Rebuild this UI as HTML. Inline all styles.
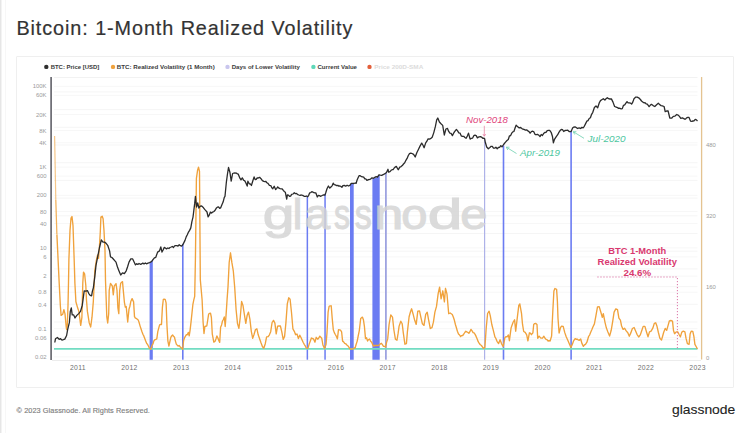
<!DOCTYPE html>
<html><head><meta charset="utf-8"><style>
html,body{margin:0;padding:0;background:#fff;}
body{width:750px;height:433px;position:relative;overflow:hidden;font-family:"Liberation Sans",Arial,sans-serif;}
.stripe{position:absolute;left:0;top:0;width:1px;height:433px;background:#e6e6e6;}
.stripe2{position:absolute;left:1px;top:0;width:1px;height:433px;background:#f3f3f3;}
.title{-webkit-text-stroke:0.2px #333;position:absolute;left:16.4px;top:19.2px;font-size:19.8px;line-height:1;color:#333;white-space:nowrap;letter-spacing:0.93px;}
.panel{position:absolute;left:15.8px;top:55.8px;width:716.5px;height:330px;border:1.5px solid #efefef;border-radius:1px;}
.footer{position:absolute;left:16.6px;top:406.8px;font-size:7.3px;line-height:1;color:#808080;white-space:nowrap;letter-spacing:0.08px;-webkit-text-stroke:0.15px #808080;}
.logo{position:absolute;left:671.5px;top:404.3px;font-size:12.4px;line-height:1;color:#222;white-space:nowrap;transform-origin:0 0;transform:scaleX(1.12);-webkit-text-stroke:0.1px #222;}
svg text{font-family:"Liberation Sans",Arial,sans-serif;}
.ax{font-size:5.9px;fill:#9a9a9a;}
.xl{font-size:6.8px;fill:#707070;letter-spacing:0.35px;}
.wm{font-size:43px;fill:#d4d4d4;stroke:#d4d4d4;stroke-width:1.1px;}
.an{font-size:8.5px;font-style:italic;}
.ab{font-size:8.3px;font-weight:bold;fill:#d9386f;}
.lg{font-size:6.2px;font-weight:bold;}
</style></head><body>
<div class="stripe"></div><div class="stripe2"></div><div style="position:absolute;left:5px;top:0;width:1px;height:433px;background:#f7f7f7"></div>
<div class="title">Bitcoin: 1-Month Realized Volatility</div>
<div class="panel"></div>
<svg width="750" height="433" viewBox="0 0 750 433" style="position:absolute;left:0;top:0"><line x1="54" y1="77.5" x2="697.5" y2="77.5" stroke="#f2f2f2" stroke-width="1"/><line x1="54" y1="339.7" x2="697.5" y2="339.7" stroke="#f5f5f5" stroke-width="1"/><line x1="54" y1="322.0" x2="697.5" y2="322.0" stroke="#f5f5f5" stroke-width="1"/><line x1="54" y1="304.3" x2="697.5" y2="304.3" stroke="#f5f5f5" stroke-width="1"/><line x1="54" y1="286.6" x2="697.5" y2="286.6" stroke="#f5f5f5" stroke-width="1"/><line x1="54" y1="268.9" x2="697.5" y2="268.9" stroke="#f5f5f5" stroke-width="1"/><line x1="54" y1="251.2" x2="697.5" y2="251.2" stroke="#f5f5f5" stroke-width="1"/><line x1="54" y1="233.5" x2="697.5" y2="233.5" stroke="#f5f5f5" stroke-width="1"/><line x1="54" y1="215.8" x2="697.5" y2="215.8" stroke="#f5f5f5" stroke-width="1"/><line x1="54" y1="198.1" x2="697.5" y2="198.1" stroke="#f5f5f5" stroke-width="1"/><line x1="54" y1="180.4" x2="697.5" y2="180.4" stroke="#f5f5f5" stroke-width="1"/><line x1="54" y1="162.7" x2="697.5" y2="162.7" stroke="#f5f5f5" stroke-width="1"/><line x1="54" y1="145.0" x2="697.5" y2="145.0" stroke="#f5f5f5" stroke-width="1"/><line x1="54" y1="127.3" x2="697.5" y2="127.3" stroke="#f5f5f5" stroke-width="1"/><line x1="54" y1="109.6" x2="697.5" y2="109.6" stroke="#f5f5f5" stroke-width="1"/><line x1="54" y1="91.9" x2="697.5" y2="91.9" stroke="#f5f5f5" stroke-width="1"/><line x1="54" y1="86.3" x2="697.5" y2="86.3" stroke="#f7f7f7" stroke-width="1"/><line x1="54" y1="95.3" x2="697.5" y2="95.3" stroke="#f7f7f7" stroke-width="1"/><line x1="54" y1="114.5" x2="697.5" y2="114.5" stroke="#f7f7f7" stroke-width="1"/><line x1="54" y1="130.6" x2="697.5" y2="130.6" stroke="#f7f7f7" stroke-width="1"/><line x1="54" y1="142.8" x2="697.5" y2="142.8" stroke="#f7f7f7" stroke-width="1"/><line x1="54" y1="167.1" x2="697.5" y2="167.1" stroke="#f7f7f7" stroke-width="1"/><line x1="54" y1="176.1" x2="697.5" y2="176.1" stroke="#f7f7f7" stroke-width="1"/><line x1="54" y1="195.3" x2="697.5" y2="195.3" stroke="#f7f7f7" stroke-width="1"/><line x1="54" y1="211.4" x2="697.5" y2="211.4" stroke="#f7f7f7" stroke-width="1"/><line x1="54" y1="223.6" x2="697.5" y2="223.6" stroke="#f7f7f7" stroke-width="1"/><line x1="54" y1="247.9" x2="697.5" y2="247.9" stroke="#f7f7f7" stroke-width="1"/><line x1="54" y1="256.9" x2="697.5" y2="256.9" stroke="#f7f7f7" stroke-width="1"/><line x1="54" y1="276.1" x2="697.5" y2="276.1" stroke="#f7f7f7" stroke-width="1"/><line x1="54" y1="292.2" x2="697.5" y2="292.2" stroke="#f7f7f7" stroke-width="1"/><line x1="54" y1="304.4" x2="697.5" y2="304.4" stroke="#f7f7f7" stroke-width="1"/><line x1="54" y1="328.7" x2="697.5" y2="328.7" stroke="#f7f7f7" stroke-width="1"/><line x1="54" y1="337.7" x2="697.5" y2="337.7" stroke="#f7f7f7" stroke-width="1"/><line x1="54" y1="356.9" x2="697.5" y2="356.9" stroke="#f7f7f7" stroke-width="1"/><line x1="52" y1="360.5" x2="701" y2="360.5" stroke="#ececec" stroke-width="1"/><polygon points="149.60,262.44 150.06,262.29 150.51,262.15 150.97,262.01 151.43,261.31 151.89,260.58 152.34,259.85 152.80,259.12 152.80,359.7 149.60,359.7" fill="#6b7cf2"/><rect x="182.0" y="243.9" width="1.6" height="115.8" fill="#6b7cf2"/><rect x="306.6" y="196.3" width="1.5" height="163.4" fill="#6b7cf2"/><rect x="324.3" y="194.0" width="1.5" height="165.7" fill="#6b7cf2"/><polygon points="350.00,184.52 350.46,184.28 350.93,184.04 351.39,183.90 351.85,183.90 352.31,183.90 352.77,183.90 353.24,183.90 353.70,183.90 353.70,359.7 350.00,359.7" fill="#6b7cf2"/><polygon points="372.40,178.65 372.89,178.53 373.37,178.41 373.86,178.28 374.35,178.16 374.83,178.04 375.32,177.92 375.81,177.80 376.29,177.63 376.78,177.25 377.27,176.87 377.75,176.49 378.24,176.11 378.73,175.73 379.21,175.52 379.70,175.40 379.70,359.7 372.40,359.7" fill="#6b7cf2"/><rect x="385.0" y="172.9" width="1.8" height="186.8" fill="#9ea3e0"/><rect x="484.0" y="139.0" width="1.2" height="220.7" fill="#aeb2e8"/><rect x="502.7" y="145.5" width="1.6" height="214.2" fill="#6b7cf2"/><rect x="570.3" y="130.8" width="1.6" height="228.9" fill="#6b7cf2"/><line x1="54" y1="348.9" x2="697.5" y2="348.9" stroke="#72dcc2" stroke-width="1.7"/><polyline points="54.6,136.0 55.8,200.0" fill="none" stroke="#f0a23c" stroke-opacity="0.6" stroke-width="1.2"/><polyline points="55.8,200.0 56.9,234.6" fill="none" stroke="#f0a23c" stroke-opacity="0.85" stroke-width="1.25"/><polyline points="56.9,234.6 58.1,259.9 59.2,283.1 60.4,306.5 61.1,315.4 62.7,314.3 63.9,309.7 65.0,313.9 66.2,327.0 66.6,329.5 67.3,325.1 68.0,305.5 68.5,282.8 68.9,259.5 70.0,230.4 71.0,218.2 72.0,216.5 73.0,225.6 74.2,260.6 74.9,283.2 75.9,301.7 77.7,308.1 78.9,311.4 80.0,320.0 80.7,325.3 81.9,317.3 82.8,282.7 83.5,272.1 84.6,273.8 85.8,285.3 86.5,300.4 87.4,311.4 89.2,322.7 90.7,327.0 92.0,317.2 93.3,301.9 94.8,270.7 96.3,260.6 97.6,255.0 98.5,258.4 99.4,247.2 100.3,231.8 100.9,217.1 102.2,216.2 103.1,218.7 104.0,230.6 105.0,250.6 105.5,280.4 106.8,316.9 107.7,323.0 108.7,313.7 109.2,290.4 110.5,283.4 112.3,286.0 113.3,294.8 114.2,286.1 116.0,283.6 117.0,290.5 117.9,307.9 118.8,313.6 119.7,290.7 120.7,283.2 122.5,281.6 123.4,291.6 124.4,302.3 125.3,307.2 126.2,306.5 127.7,322.0 129.0,309.1 129.9,306.2 130.8,301.6 132.1,298.6 133.6,301.9 134.5,316.6 135.4,318.2 136.4,318.4 138.2,319.9 139.1,322.5 140.1,326.1 141.0,328.7 141.9,331.5 142.9,334.2 143.8,335.9 145.6,340.8 146.6,343.3 147.5,344.4 148.4,346.0 149.3,347.9 150.8,349.3 152.1,345.1 153.0,343.9 153.9,340.7 154.9,339.7 155.8,339.3 156.8,338.8 157.8,331.6 159.6,324.8 160.6,324.4 161.5,324.5 162.4,307.4 163.3,299.5 164.2,299.2 165.2,299.3 166.1,302.8 167.0,326.2 167.9,341.1 168.9,346.0 170.7,337.8 171.6,335.9 172.6,335.0 173.5,336.3 174.4,337.0 175.3,340.6 176.3,344.1 178.1,346.1 179.1,345.5 180.0,346.7 180.9,347.6 181.8,348.1 182.7,349.2 183.6,340.5 184.6,337.7 185.5,336.1 186.4,334.7 187.3,334.7 188.3,332.4 189.2,335.9 190.1,330.1 191.1,321.4 192.0,312.9 192.9,304.3 193.8,299.8 194.7,296.3 195.4,260.1 196.4,178.4 197.6,170.1 198.5,167.2 199.5,171.5 200.3,279.6 202.1,299.7 203.1,322.2 204.0,333.5 204.9,326.5 205.9,326.2 206.8,326.0 208.6,314.3 209.6,313.3 210.5,313.1 211.4,317.5 212.3,334.2 213.8,342.1 215.1,341.2 216.0,338.8 216.9,336.0 217.9,338.1 218.8,340.4 219.7,342.4 220.6,327.2 221.6,324.9 222.5,321.0 223.4,319.5 224.3,317.0 225.2,326.5 226.2,313.1 227.1,299.1 228.0,286.9 229.2,262.3 230.5,252.8 231.9,262.7 233.3,270.8 234.7,287.2 236.1,309.7 237.5,323.6 238.9,328.4 240.2,317.8 241.6,301.5 243.0,305.5 244.4,314.7 245.8,323.4 247.2,315.2 248.5,312.1 249.9,319.1 251.3,331.3 252.7,338.4 254.1,334.3 255.5,329.5 256.9,328.8 258.2,334.8 259.6,338.8 261.0,342.8 262.4,346.5 263.8,348.3 265.2,344.0 266.6,336.9 268.0,336.7 269.3,335.1 270.7,331.7 272.1,322.5 273.5,320.4 274.9,323.1 276.2,333.9 277.6,326.1 279.0,325.9 280.4,326.0 281.8,331.9 283.2,339.4 284.6,336.4 285.9,322.9 287.3,303.9 288.7,297.8 290.1,299.2 291.5,312.5 292.9,328.8 294.3,331.3 295.6,334.7 297.0,334.0 298.4,338.5 299.8,335.2 301.0,337.5 302.1,340.0 303.1,342.2 304.2,344.3 305.2,345.8 306.2,348.1 307.9,348.4 309.4,343.4 310.4,340.7 311.4,338.0 312.4,338.5 313.5,338.9 315.0,342.2 316.2,337.3 317.7,339.2 318.8,338.0 319.8,336.2 320.8,337.2 321.8,338.5 322.9,345.0 324.5,348.6 326.0,344.6 327.0,332.8 328.1,312.2 329.1,306.3 330.1,305.9 331.2,305.8 332.2,318.2 333.3,329.7 334.3,332.6 335.3,334.5 336.4,336.3 337.4,338.9 338.5,329.7 339.5,329.9 340.5,330.2 341.6,331.8 342.6,341.1 343.6,341.9 344.7,343.4 345.8,343.8 346.8,345.0 347.9,345.8 348.9,347.1 349.9,348.8 350.9,349.0 352.0,349.2 353.0,348.8 354.1,347.9 355.1,348.0 356.1,344.5 357.2,341.1 358.2,336.0 359.3,330.6 360.7,318.5 362.4,317.1 363.4,319.7 364.4,326.3 365.5,338.6 366.5,337.7 367.6,341.0 368.6,339.5 369.6,339.0 370.6,341.2 371.7,342.3 372.8,344.9 373.8,346.3 374.9,345.3 376.0,345.5 377.2,345.4 378.3,345.5 379.4,344.7 380.4,343.9 381.4,343.3 382.4,344.7 383.5,346.4 384.6,346.4 385.6,347.1 386.6,342.4 387.7,338.9 389.1,324.4 390.8,314.9 392.5,317.1 393.9,330.0 395.4,339.1 397.0,340.2 398.1,333.4 399.1,326.1 400.8,321.2 402.2,323.8 403.3,332.9 404.9,344.2 406.4,343.6 407.4,331.9 409.1,316.7 410.5,311.7 411.6,308.8 413.0,313.7 414.7,320.3 416.2,324.4 417.8,311.1 419.5,310.9 420.9,317.4 422.4,323.8 424.0,325.4 425.7,314.3 427.2,312.2 428.6,319.9 430.3,328.5 432.0,327.6 433.4,322.2 434.9,312.1 436.5,306.4 438.2,293.4 439.6,287.2 441.1,298.8 442.8,290.8 444.4,301.9 445.5,288.3 447.0,294.2 448.7,313.7 450.2,313.0 451.2,313.7 452.3,314.5 453.4,317.2 454.4,320.3 455.4,324.5 456.4,327.8 457.4,331.2 458.5,334.0 459.6,335.0 460.6,336.6 461.6,335.6 462.7,335.5 463.8,334.0 464.8,332.5 465.8,331.3 466.8,331.9 467.9,332.4 468.9,333.3 469.9,331.7 471.0,329.4 472.1,330.8 473.1,332.6 474.1,332.9 475.1,334.4 476.1,336.4 477.2,339.1 478.2,341.7 479.3,343.5 480.4,344.8 481.4,345.5 482.4,346.9 483.5,348.4 484.9,347.4 486.2,328.2 487.6,313.5 489.1,311.2 490.3,315.8 491.8,324.5 493.2,329.9 494.9,336.8 495.9,338.5 497.0,341.3 498.6,343.5 500.1,339.8 501.5,343.6 503.2,346.7 504.9,337.7 505.9,336.6 507.0,336.8 508.4,335.0 509.4,340.7 511.1,327.9 512.2,324.7 513.2,322.0 514.6,319.8 515.7,331.2 517.3,317.7 518.8,305.3 519.8,303.9 521.5,313.3 522.5,324.2 523.7,331.5 525.2,332.4 526.7,334.8 527.9,340.8 529.4,332.8 530.4,333.1 531.4,334.7 532.9,332.8 533.7,324.5 534.7,323.6 535.6,323.4 537.0,324.5 537.7,338.3 539.1,336.1 540.8,338.1 542.5,338.2 543.9,336.2 545.0,338.3 546.0,339.3 547.0,339.7 548.1,341.1 549.1,340.6 550.1,341.0 551.6,336.1 552.8,311.5 553.9,291.0 554.9,288.5 556.6,289.4 557.4,301.4 558.0,318.3 559.1,333.0 560.5,327.7 561.6,326.1 563.2,326.4 564.7,332.4 566.2,336.7 567.8,340.3 569.5,344.3 570.9,347.5 572.4,344.2 573.6,340.8 575.1,338.6 576.2,339.2 577.2,339.2 578.2,339.8 579.3,340.3 580.7,339.0 581.9,343.4 583.4,346.4 584.5,344.9 585.5,344.3 586.9,342.2 588.6,336.5 589.7,334.8 590.7,332.2 591.8,329.8 592.8,327.2 594.4,323.9 595.9,315.8 597.5,306.8 599.2,306.6 600.8,312.0 602.3,317.4 603.3,313.6 605.0,322.3 606.4,328.1 607.9,332.0 609.6,336.1 611.2,330.3 612.7,321.4 614.1,312.1 615.8,308.9 617.5,309.7 618.9,318.2 620.4,320.1 621.6,326.0 623.1,329.4 624.5,328.2 626.2,330.9 627.8,332.8 629.3,336.2 630.8,332.9 632.4,328.5 634.1,327.5 635.5,330.7 637.0,334.3 638.7,337.0 640.3,334.9 641.8,330.5 643.2,326.4 644.9,326.4 646.6,332.3 648.0,336.8 649.5,331.9 651.1,331.1 652.8,328.2 654.3,323.4 655.7,322.8 657.0,326.3 658.4,332.5 659.9,338.3 661.5,340.1 662.6,336.2 663.7,332.2 665.2,328.4 666.7,330.4 667.9,326.1 669.4,320.8 670.8,320.5 672.5,321.1 673.5,330.5 674.6,333.7 676.2,331.9 677.7,331.8 679.1,334.5 680.4,336.8 681.8,332.1 683.3,331.2 684.9,331.9 686.0,338.2 687.4,343.7 689.1,344.3 690.1,334.1 691.2,331.2 692.8,331.4 693.9,336.5 694.9,344.4 696.4,347.0 697.4,349.0" fill="none" stroke="#f0a23c" stroke-width="1.35" stroke-linejoin="round"/><polyline points="54.8,342.5 55.5,338.7 57.4,337.5 59.2,339.4 60.6,338.7 62.0,340.1 63.4,339.7 64.8,339.1 66.6,335.5 67.6,329.9 69.4,322.4 70.3,311.4 71.3,307.9 72.2,314.9 73.7,314.9 75.0,318.0 76.8,315.4 78.7,313.6 80.5,311.4 82.3,305.2 84.2,290.9 86.0,291.2 87.4,290.6 88.8,293.6 90.2,295.4 91.6,295.9 92.4,291.2 93.4,287.6 94.8,276.6 96.0,265.4 97.6,257.2 99.4,248.0 101.3,240.0 103.0,242.1 104.5,242.1 105.9,243.1 107.7,245.3 109.6,250.9 110.5,256.9 111.9,257.5 113.3,259.0 114.7,260.6 116.0,262.1 117.4,266.8 118.8,270.4 120.7,275.0 122.5,272.8 124.4,273.7 126.2,270.8 127.6,266.7 129.0,262.1 130.8,258.9 132.7,258.9 134.1,261.9 135.5,264.9 136.7,263.7 137.8,264.4 139.0,263.5 140.3,264.3 141.5,264.0 142.8,263.1 144.0,263.9 145.3,262.9 146.5,263.8 148.0,263.1 149.5,262.6 151.0,261.9 152.0,261.1 153.0,259.7 154.4,257.8 155.8,257.3 157.6,252.1 159.5,250.9 160.8,246.9 162.0,252.0 163.1,250.0 164.2,247.4 165.4,248.0 166.5,248.9 167.7,248.0 168.9,248.5 170.0,247.5 171.2,247.0 172.3,246.5 173.5,247.5 174.6,245.9 175.7,245.7 176.9,245.6 178.0,246.1 179.2,244.8 180.4,245.7 181.6,246.1 182.8,244.8 183.9,242.6 185.0,240.4 186.2,236.9 187.3,234.8 188.5,232.1 189.6,230.4 190.8,227.9 191.9,221.7 193.0,217.1 194.7,203.4 195.4,196.5 196.6,207.0 197.7,202.9 198.9,208.0 200.1,206.3 201.2,205.8 202.4,206.6 203.5,207.8 204.7,209.4 205.8,210.6 207.0,212.0 208.1,216.8 209.2,215.2 210.4,212.1 211.6,213.1 212.7,212.1 213.9,211.5 215.1,210.2 216.2,208.3 217.4,207.1 218.5,206.9 219.7,208.4 220.8,207.6 221.9,204.7 223.1,202.1 224.3,197.3 225.0,196.3 226.4,181.8 227.4,174.5 228.5,167.5 229.9,172.2 231.2,181.1 232.6,173.5 234.0,173.0 235.1,173.2 236.1,173.0 237.1,173.6 238.2,174.1 239.6,177.6 241.0,179.9 242.3,177.9 243.7,180.3 244.8,180.9 245.8,182.7 247.2,186.1 247.9,181.2 249.3,183.8 250.4,184.0 251.4,185.5 252.7,181.3 254.1,176.9 255.1,179.5 256.2,179.4 257.2,177.9 258.3,178.0 259.6,177.3 261.0,178.7 262.4,180.6 263.8,181.4 264.9,181.7 265.9,181.5 266.9,182.8 268.0,183.4 269.4,185.3 270.8,185.6 271.8,187.8 272.8,188.7 274.2,186.3 275.6,189.6 276.6,188.6 277.7,186.9 279.0,188.2 280.1,188.6 281.2,188.8 282.2,188.8 283.3,190.4 284.3,191.5 285.3,192.2 286.7,199.1 287.4,194.8 288.4,195.1 289.5,196.3 290.6,196.1 291.6,194.4 293.0,194.0 294.3,192.8 295.4,193.7 296.4,193.5 297.8,194.6 298.9,195.0 299.9,195.3 301.3,195.0 302.7,195.4 304.1,196.3 305.5,196.4 306.6,196.0 307.6,196.7 308.6,195.6 309.7,192.8 310.8,192.6 311.8,191.7 312.9,192.1 313.9,192.7 314.9,192.9 315.9,193.0 317.3,197.0 318.4,195.4 319.4,195.6 320.8,196.3 322.2,195.5 323.5,194.8 324.9,195.2 325.9,192.3 327.0,188.8 328.4,186.0 329.8,188.1 331.2,186.8 332.2,185.6 333.2,183.2 334.2,184.6 335.3,184.9 336.7,185.6 337.8,185.4 338.8,186.1 339.9,186.0 340.9,186.4 341.9,187.3 342.9,185.6 344.3,185.4 345.7,186.2 347.1,185.2 348.5,186.0 349.9,185.3 351.2,183.3 352.6,183.4 354.0,183.5 355.1,183.0 356.1,183.4 357.1,180.0 358.2,177.5 359.2,175.6 360.2,175.7 361.6,176.7 362.6,176.9 363.7,177.2 364.8,178.9 365.8,178.9 366.9,180.3 367.9,179.8 369.2,179.5 370.6,179.1 372.0,177.8 373.4,178.3 374.8,177.4 376.2,176.7 377.5,177.2 378.9,174.9 380.3,175.2 381.7,175.4 383.1,174.7 384.5,173.9 385.6,173.2 386.6,172.3 388.0,169.3 388.6,172.1 390.0,171.6 391.1,170.3 392.1,169.7 393.1,169.6 394.2,168.0 395.2,167.1 396.3,166.4 398.2,169.8 399.8,167.1 401.1,166.6 402.3,165.6 403.5,164.0 404.7,162.8 405.9,160.3 407.1,158.4 408.3,155.5 409.5,153.6 410.8,153.1 412.0,153.5 413.6,154.4 415.2,157.0 416.8,152.8 418.4,149.5 420.0,146.1 421.7,143.1 422.9,145.0 424.1,147.7 425.7,142.9 426.9,141.2 428.1,138.8 429.3,139.2 430.5,138.7 432.2,137.3 433.8,132.6 435.4,126.4 436.7,119.8 437.8,118.0 439.4,122.0 441.0,123.7 442.7,125.4 444.3,135.0 445.9,129.0 447.5,128.4 448.7,131.4 449.9,133.2 451.1,133.4 452.4,135.6 454.0,132.5 455.2,130.9 456.4,129.4 457.6,130.9 458.8,132.9 460.0,133.1 461.2,135.8 462.4,136.4 463.7,136.3 464.9,137.4 466.1,138.3 467.3,136.1 468.5,133.2 470.1,139.1 471.3,138.3 472.5,138.2 473.8,135.7 475.0,135.2 476.2,135.6 477.4,137.9 479.0,136.8 480.6,136.6 481.7,137.2 482.8,138.3 483.9,138.2 484.6,138.5 485.3,142.3 486.7,147.0 488.3,148.7 489.9,147.4 491.1,146.3 492.3,146.4 493.5,148.2 494.7,148.2 495.9,147.2 497.2,148.7 498.4,147.5 499.6,147.3 500.8,145.6 502.0,146.9 503.6,144.5 505.5,142.1 507.0,140.5 508.3,139.5 509.4,136.0 510.5,135.7 511.7,133.2 512.8,131.9 513.9,131.5 515.0,128.2 516.1,125.1 517.2,126.3 518.9,127.8 520.6,127.5 522.2,128.8 523.9,129.4 525.6,130.1 526.7,129.8 527.8,130.9 529.0,131.6 530.1,133.2 531.4,131.6 532.7,131.2 533.9,131.9 535.1,134.6 536.3,134.6 537.5,134.3 538.8,135.2 540.0,136.6 541.2,134.5 542.4,135.5 543.6,133.6 544.8,132.5 546.0,132.3 547.2,130.6 548.5,130.4 549.7,130.4 551.3,132.7 552.4,136.2 553.4,142.9 554.5,139.3 556.1,136.8 557.7,134.7 558.9,132.4 560.1,130.6 561.3,129.5 562.5,129.7 563.7,131.5 565.0,130.5 566.2,130.3 567.8,130.2 569.4,131.7 571.0,131.7 572.6,128.1 573.8,127.1 575.0,126.8 576.2,127.5 577.5,128.5 579.1,127.9 580.7,128.5 581.9,127.3 583.1,127.9 584.3,126.3 585.5,123.9 586.8,121.2 588.0,120.6 589.2,118.5 590.4,117.8 591.6,114.3 592.8,112.3 594.4,107.5 596.0,106.0 597.7,107.8 599.3,102.8 600.5,100.6 601.7,99.8 603.3,98.7 604.9,100.1 606.1,98.6 607.4,97.7 608.6,98.7 609.8,99.0 611.4,98.9 613.0,102.1 614.6,106.5 616.2,107.1 617.5,107.6 618.7,108.4 619.9,108.2 621.1,108.9 622.3,108.6 623.5,105.3 624.7,104.8 625.9,103.1 627.0,101.6 628.1,102.9 629.2,102.8 630.4,103.1 631.6,104.1 632.8,102.1 634.0,98.7 635.8,97.1 637.2,97.1 638.7,97.8 640.4,99.5 641.5,101.0 642.7,101.9 643.9,102.8 645.0,102.7 646.1,103.8 647.3,104.1 649.1,106.6 650.2,105.3 651.4,104.3 653.1,105.6 654.8,106.5 656.6,104.7 658.3,103.2 660.0,104.9 661.1,105.6 662.3,105.8 664.1,106.5 665.2,111.6 667.0,110.9 668.1,111.0 669.8,118.0 671.6,118.2 673.3,116.4 675.0,116.1 676.8,114.5 678.5,115.3 679.6,116.6 680.8,118.4 682.5,117.9 684.3,119.0 685.5,119.2 686.6,117.9 687.8,117.4 688.9,117.3 690.6,121.2 691.8,121.3 692.9,121.0 694.0,120.8 695.2,119.4 696.4,119.9 697.5,121.0" fill="none" stroke="#2b2b2b" stroke-width="1.3" stroke-linejoin="round"/><line x1="51.1" y1="77" x2="51.1" y2="360" stroke="#606068" stroke-width="1.6"/><line x1="701.6" y1="77" x2="701.6" y2="359.5" stroke="#e4c391" stroke-width="1.3"/><text x="46.5" y="88.4" text-anchor="end" class="ax">100K</text><text x="46.5" y="97.4" text-anchor="end" class="ax">60K</text><text x="46.5" y="116.6" text-anchor="end" class="ax">20K</text><text x="46.5" y="132.7" text-anchor="end" class="ax">8K</text><text x="46.5" y="144.9" text-anchor="end" class="ax">4K</text><text x="46.5" y="169.2" text-anchor="end" class="ax">1K</text><text x="46.5" y="178.2" text-anchor="end" class="ax">600</text><text x="46.5" y="197.4" text-anchor="end" class="ax">200</text><text x="46.5" y="213.5" text-anchor="end" class="ax">80</text><text x="46.5" y="225.7" text-anchor="end" class="ax">40</text><text x="46.5" y="250.0" text-anchor="end" class="ax">10</text><text x="46.5" y="259.0" text-anchor="end" class="ax">6</text><text x="46.5" y="278.2" text-anchor="end" class="ax">2</text><text x="46.5" y="294.3" text-anchor="end" class="ax">0.8</text><text x="46.5" y="306.5" text-anchor="end" class="ax">0.4</text><text x="46.5" y="330.8" text-anchor="end" class="ax">0.1</text><text x="46.5" y="339.8" text-anchor="end" class="ax">0.06</text><text x="46.5" y="359.0" text-anchor="end" class="ax">0.02</text><text x="706" y="147.1" class="ax">480</text><text x="706" y="217.9" class="ax">320</text><text x="706" y="288.7" class="ax">160</text><text x="706" y="359.5" class="ax">0</text><text x="77.9" y="370.1" text-anchor="middle" class="xl">2011</text><text x="129.5" y="370.1" text-anchor="middle" class="xl">2012</text><text x="181.2" y="370.1" text-anchor="middle" class="xl">2013</text><text x="232.8" y="370.1" text-anchor="middle" class="xl">2014</text><text x="284.5" y="370.1" text-anchor="middle" class="xl">2015</text><text x="336.1" y="370.1" text-anchor="middle" class="xl">2016</text><text x="387.7" y="370.1" text-anchor="middle" class="xl">2017</text><text x="439.4" y="370.1" text-anchor="middle" class="xl">2018</text><text x="491.0" y="370.1" text-anchor="middle" class="xl">2019</text><text x="542.7" y="370.1" text-anchor="middle" class="xl">2020</text><text x="594.3" y="370.1" text-anchor="middle" class="xl">2021</text><text x="645.9" y="370.1" text-anchor="middle" class="xl">2022</text><text x="697.6" y="370.1" text-anchor="middle" class="xl">2023</text><g opacity="0.82"><text transform="translate(262.80,229) scale(1.325,1)" class="wm">g</text><text transform="translate(292.87,229) scale(1.004,1)" class="wm">l</text><text transform="translate(304.80,229) scale(1.059,1)" class="wm">a</text><text transform="translate(334.07,229) scale(0.747,1)" class="wm">s</text><text transform="translate(354.81,229) scale(0.791,1)" class="wm">s</text><text transform="translate(374.31,229) scale(1.214,1)" class="wm">n</text><text transform="translate(401.15,229) scale(1.096,1)" class="wm">o</text><text transform="translate(427.82,229) scale(1.449,1)" class="wm">d</text><text transform="translate(460.29,229) scale(1.135,1)" class="wm">e</text></g><text x="466" y="123.1" class="an" fill="#e0457b" textLength="42" lengthAdjust="spacingAndGlyphs">Nov-2018</text><line x1="484.3" y1="125.8" x2="484.3" y2="136" stroke="#e46a95" stroke-width="0.65"/><path d="M482.9,134 L484.3,136.3 L485.7,134" fill="none" stroke="#e46a95" stroke-width="0.65"/><text x="520" y="156.4" class="an" fill="#4cc6a0" textLength="40" lengthAdjust="spacingAndGlyphs">Apr-2019</text><line x1="516.5" y1="153.5" x2="506.5" y2="147.3" stroke="#6ccfae" stroke-width="0.8"/><path d="M509.5,147.2 L506.3,147.2 L507.8,150" fill="none" stroke="#6ccfae" stroke-width="0.8"/><text x="587.5" y="141.9" class="an" fill="#4cc6a0" textLength="38" lengthAdjust="spacingAndGlyphs">Jul-2020</text><line x1="584" y1="138.3" x2="573.4" y2="131.8" stroke="#6ccfae" stroke-width="0.8"/><path d="M576.4,131.7 L573.2,131.7 L574.7,134.5" fill="none" stroke="#6ccfae" stroke-width="0.8"/><text x="637.3" y="253.7" class="ab" text-anchor="middle" textLength="58" lengthAdjust="spacingAndGlyphs">BTC 1-Month</text><text x="637.3" y="264.9" class="ab" text-anchor="middle" textLength="79.4" lengthAdjust="spacingAndGlyphs">Realized Volatility</text><text x="637.3" y="276.1" class="ab" text-anchor="middle" textLength="27.6" lengthAdjust="spacingAndGlyphs">24.6%</text><polyline points="597.4,277 677.4,277 677.4,349" fill="none" stroke="#d7649c" stroke-width="0.9" stroke-dasharray="1.2,1.8"/><circle cx="46.3" cy="66.9" r="2.2" fill="#2e2e2e"/><text x="50.7" y="69.1" class="lg" fill="#3a3a3a" textLength="48.5" lengthAdjust="spacingAndGlyphs">BTC: Price [USD]</text><circle cx="113" cy="66.9" r="2.2" fill="#f0a23c"/><text x="116.8" y="69.1" class="lg" fill="#3a3a3a" textLength="97.9" lengthAdjust="spacingAndGlyphs">BTC: Realized Volatility (1 Month)</text><circle cx="227.5" cy="66.9" r="2.2" fill="#c9c6ee"/><text x="231.7" y="69.1" class="lg" fill="#3a3a3a" textLength="68.1" lengthAdjust="spacingAndGlyphs">Days of Lower Volatility</text><circle cx="313.4" cy="66.9" r="2.2" fill="#5fd8b9"/><text x="317.4" y="69.1" class="lg" fill="#3a3a3a" textLength="39.6" lengthAdjust="spacingAndGlyphs">Current Value</text><circle cx="369.5" cy="66.9" r="2.2" fill="#e35f3a"/><text x="374.3" y="69.1" class="lg" fill="#dcdcdc" textLength="49" lengthAdjust="spacingAndGlyphs">Price 200D-SMA</text></svg>
<div class="footer">© 2023 Glassnode. All Rights Reserved.</div>
<div class="logo">glassnode</div>
</body></html>
